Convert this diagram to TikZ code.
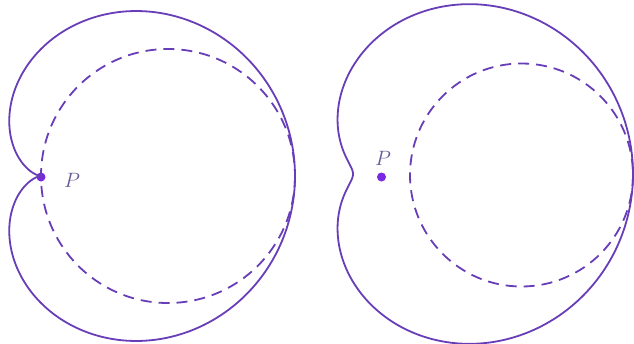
\documentclass[tikz,border=0pt]{standalone}
\begin{document}
\begin{tikzpicture}[x=1pt,y=-1pt,
  curve/.style={draw=lineviolet,line width=1.8pt},
  dcurve/.style={draw=lineviolet,line width=1.8pt,dash pattern=on 11pt off 7pt},
  pdot/.style={circle,fill=dotviolet,inner sep=0pt,minimum size=9pt},
  plabel/.style={text=labelviolet,font=\fontsize{21}{21}\selectfont}]
\definecolor{lineviolet}{RGB}{104,62,184}
\definecolor{dotviolet}{RGB}{122,40,225}
\definecolor{labelviolet}{RGB}{105,90,150}
\useasboundingbox (0,0) rectangle (634,343);
% left figure: cardioid
\node[pdot] (P1) at (41,177) {};
\node[plabel] (L1) at (72,180) {$P$};
\draw[dcurve] (168,176) circle[radius=127];
\draw[curve] plot[domain=0:360,samples=240,smooth cycle]
  ({41+(127+127*cos(\x))*cos(\x)},{176-(127+127*cos(\x))*sin(\x)});
% right figure: limacon
\node[pdot] (P2) at (381.5,177) {};
\node[plabel] (L2) at (383,158) {$P$};
\draw[dcurve] (521.5,175) circle[radius=111.5];
\draw[curve] plot[domain=0:360,samples=240,smooth cycle]
  ({381.5+(140+111.5*cos(\x))*cos(\x)},{174-(140+111.5*cos(\x))*sin(\x)});
\end{tikzpicture}
\end{document}
